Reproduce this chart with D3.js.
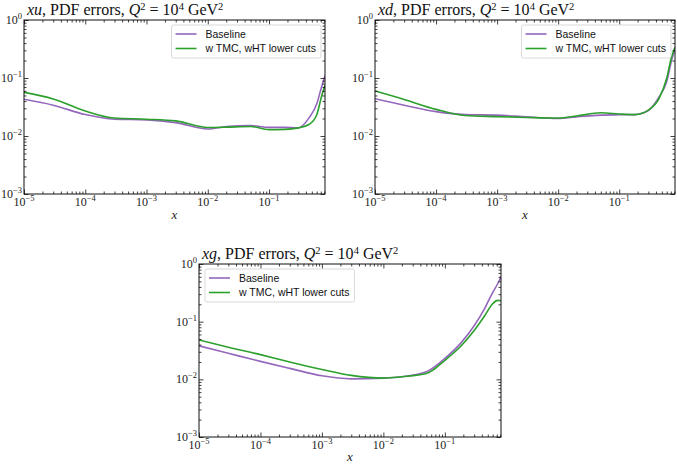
<!DOCTYPE html>
<html>
<head>
<meta charset="utf-8">
<script src="https://cdn.jsdelivr.net/npm/d3@7"></script>
<style>
  body { margin: 0; background: #fff; }
  svg { display: block; }
</style>
</head>
<body>
<svg id="chart" width="677" height="464"></svg>
<script>
// x grid shared by all three panels
const xGrid = [1e-5, 3e-5, 1e-4, 3e-4, 1e-3, 3e-3, 1e-2, 2e-2, 5e-2, 0.1, 0.18, 0.3, 0.45, 0.6, 0.72, 0.82]

// PDF errors
const xuBaseline = [0.043, 0.034, 0.0234, 0.0195, 0.019, 0.017, 0.0132, 0.0145, 0.0151, 0.0141, 0.0141, 0.0138, 0.0205, 0.0355, 0.07, 0.11]
const xuTMC      = [0.0566, 0.0436, 0.027, 0.0204, 0.0195, 0.0182, 0.014, 0.0142, 0.0146, 0.0129, 0.013, 0.0138, 0.0158, 0.023, 0.048, 0.075]
const xdBaseline = [0.044, 0.034, 0.0263, 0.0234, 0.0229, 0.0214, 0.02, 0.0214, 0.0229, 0.0232, 0.0234, 0.0275, 0.047, 0.087, 0.2, 0.32]
const xdTMC      = [0.0597, 0.0427, 0.0288, 0.0226, 0.0216, 0.0209, 0.0204, 0.0221, 0.0251, 0.024, 0.0234, 0.028, 0.0447, 0.099, 0.23, 0.34]
const xgBaseline = [0.038, 0.0283, 0.0205, 0.0155, 0.0115, 0.0102, 0.0105, 0.0111, 0.0135, 0.023, 0.042, 0.085, 0.174, 0.32, 0.45, 0.6]
const xgTMC      = [0.048, 0.036, 0.0268, 0.02, 0.0148, 0.0117, 0.0105, 0.0111, 0.0126, 0.0214, 0.037, 0.07, 0.129, 0.204, 0.234, 0.23]

const seriesNames = ["Baseline", "w TMC, wHT lower cuts"]
const seriesColours = ["#9467bd", "#2ca02c"]
const flavours = ["xu", "xd", "xg"]

const xMajor = [1e-5, 1e-4, 1e-3, 1e-2, 1e-1]
const xMajorExp = ["−5", "−4", "−3", "−2", "−1"]
const yMajor = [1e-3, 1e-2, 1e-1, 1]
const yMajorExp = ["−3", "−2", "−1", "0"]

const xDomain = [1e-5, 0.82]
const yDomain = [1e-3, 1]

function minorTicks(lo, hi) {
  const out = []
  for (let e = -6; e <= 0; e++) {
    for (let k = 2; k <= 9; k++) {
      const v = k * Math.pow(10, e)
      if (v > lo && v < hi) out.push(v)
    }
  }
  return out
}

const svg = d3.select('#chart')
const serif = '"Liberation Serif", "DejaVu Serif", serif'
const sans = '"Liberation Sans", Arial, sans-serif'

// panel layout
const panels = [
  {name: flavours[0], series: [xuBaseline, xuTMC], left: 24, right: 325, top: 20, bottom: 194, legend: 'right'},
  {name: flavours[1], series: [xdBaseline, xdTMC], left: 375, right: 675, top: 20, bottom: 194, legend: 'right'},
  {name: flavours[2], series: [xgBaseline, xgTMC], left: 199, right: 501, top: 264, bottom: 437, legend: 'left'}
]

// writes "10" with a raised exponent
function powerLabel(sel, exp) {
  sel.append('tspan').text('10')
  sel.append('tspan').attr('dy', -5).attr('font-size', '8.5px').text(exp)
}

panels.forEach((p, pi) => {
  const x = d3.scaleLog().domain(xDomain).range([p.left, p.right])
  const y = d3.scaleLog().domain(yDomain).range([p.bottom, p.top])
  const g = svg.append('g')

  const clipId = 'clip' + pi
  g.append('clipPath').attr('id', clipId)
    .append('rect')
    .attr('x', p.left).attr('y', p.top)
    .attr('width', p.right - p.left).attr('height', p.bottom - p.top)

  // curves
  const line = d3.line()
    .x(d => x(d[0]))
    .y(d => y(d[1]))
    .curve(d3.curveMonotoneX)

  p.series.forEach((vals, si) => {
    g.append('path')
      .datum(xGrid.map((xv, i) => [xv, vals[i]]))
      .attr('clip-path', `url(#${clipId})`)
      .attr('fill', 'none')
      .attr('stroke', seriesColours[si])
      .attr('stroke-width', 1.6)
      .attr('d', line)
  })

  // ticks on all four sides, pointing in
  const xMinor = minorTicks(xDomain[0], xDomain[1])
  const yMinor = minorTicks(yDomain[0], yDomain[1])
  const tickAxes = [
    [d3.axisBottom(x), p.bottom, 'x', xMajor, xMinor],
    [d3.axisTop(x), p.top, 'x', xMajor, xMinor],
    [d3.axisLeft(y), p.left, 'y', yMajor, yMinor],
    [d3.axisRight(y), p.right, 'y', yMajor, yMinor]
  ]
  tickAxes.forEach(([ax, pos, dir, major, minor]) => {
    [[major, 4.5], [minor, 2.5]].forEach(([vals, len]) => {
      const a = g.append('g')
        .attr('transform', dir == 'x' ? `translate(0,${pos})` : `translate(${pos},0)`)
        .call(ax.tickValues(vals).tickSize(-len).tickFormat(''))
      a.select('.domain').remove()
      a.selectAll('line').attr('stroke', '#111').attr('stroke-width', 0.8)
    })
  })

  // frame
  g.append('rect')
    .attr('x', p.left).attr('y', p.top)
    .attr('width', p.right - p.left).attr('height', p.bottom - p.top)
    .attr('fill', 'none').attr('stroke', '#111').attr('stroke-width', 1)

  // x tick labels
  xMajor.forEach((v, i) => {
    const t = g.append('text')
      .attr('x', x(v)).attr('y', p.bottom + 12)
      .attr('text-anchor', 'middle')
      .attr('font-family', serif).attr('font-size', '12px').attr('fill', '#222')
    powerLabel(t, xMajorExp[i])
  })

  // y tick labels
  yMajor.forEach((v, i) => {
    const t = g.append('text')
      .attr('x', p.left - 2).attr('y', y(v) + 4)
      .attr('text-anchor', 'end')
      .attr('font-family', serif).attr('font-size', '12px').attr('fill', '#222')
    powerLabel(t, yMajorExp[i])
  })

  // x axis label (kept inside the page at the bottom)
  g.append('text')
    .attr('x', (p.left + p.right) / 2).attr('y', Math.min(p.bottom + 25, 461))
    .attr('text-anchor', 'middle')
    .attr('font-family', serif).attr('font-style', 'italic').attr('font-size', '13px')
    .attr('fill', '#222')
    .text('x')

  // title
  const title = g.append('text')
    .attr('x', p.left + 3).attr('y', p.top - 5)
    .attr('font-family', serif).attr('font-size', '16px').attr('fill', '#111')
  const parts = [
    {t: p.name, it: true}, {t: ', PDF errors, '}, {t: 'Q', it: true}, {t: '2', sup: true},
    {t: ' = 10'}, {t: '4', sup: true}, {t: ' GeV'}, {t: '2', sup: true}
  ]
  let raised = false
  parts.forEach(part => {
    const ts = title.append('tspan').text(part.t)
    if (part.it) ts.attr('font-style', 'italic')
    if (part.sup) { ts.attr('dy', -5.5).attr('font-size', '10.5px'); raised = true }
    else if (raised) { ts.attr('dy', 5.5); raised = false }
  })

  // legend
  const lg = g.append('g')
  const box = lg.append('rect')
  const labels = seriesNames.map((name, si) => {
    return lg.append('text')
      .attr('font-family', sans).attr('font-size', '10.5px').attr('fill', '#111')
      .text(name)
  })
  const textW = d3.max(labels, l => l.node().getComputedTextLength())
  const boxW = 4 + 21 + 9 + textW + 5
  const boxH = 33
  const boxX = p.legend == 'right' ? p.right - 4 - boxW : p.left + 6
  const boxY = p.top + 5
  box.attr('x', boxX).attr('y', boxY).attr('width', boxW).attr('height', boxH)
    .attr('rx', 2).attr('fill', 'white').attr('fill-opacity', 0.85)
    .attr('stroke', '#cfcfcf').attr('stroke-width', 0.8)
  labels.forEach((l, si) => {
    const cy = boxY + 9 + si * 14.5
    lg.append('line')
      .attr('x1', boxX + 4).attr('x2', boxX + 25)
      .attr('y1', cy).attr('y2', cy)
      .attr('stroke', seriesColours[si]).attr('stroke-width', 1.6)
    l.attr('x', boxX + 34).attr('y', cy + 3.8)
  })
})
</script>
</body>
</html>
